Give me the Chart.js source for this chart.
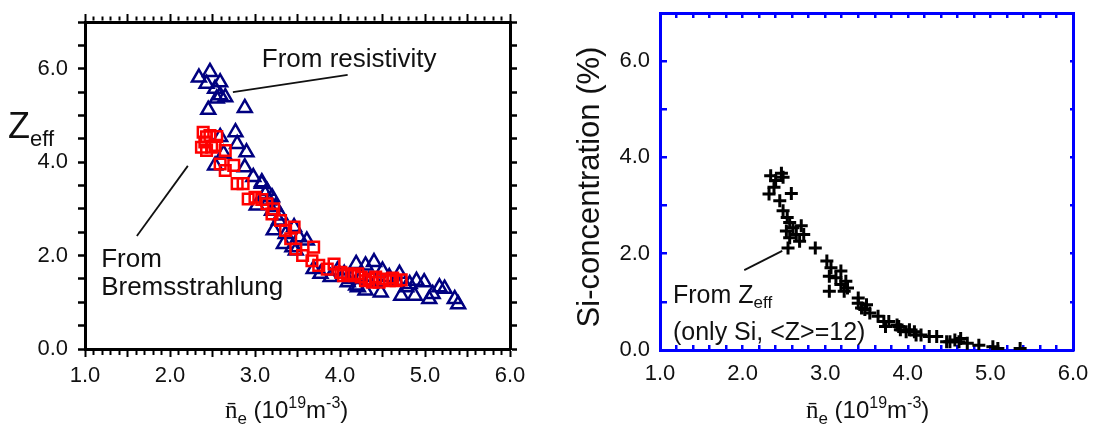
<!DOCTYPE html>
<html>
<head>
<meta charset="utf-8">
<script src="https://cdn.jsdelivr.net/npm/chart.js@4.4.0/dist/chart.umd.min.js"></script>
<style>
  html, body { margin: 0; padding: 0; background: #fff; }
  #wrap { position: relative; width: 1093px; height: 427px; overflow: hidden; }
  canvas { position: absolute; top: 0; }
  #zeffChart { left: 0; }
  #siChart { left: 546px; }
</style>
</head>
<body>
<div id="wrap">
  <canvas id="zeffChart" width="546" height="427"></canvas>
  <canvas id="siChart" width="547" height="427"></canvas>
</div>
<script>
// tick labels
const xTicks = [1, 2, 3, 4, 5, 6];
const xTickLabels = ["1.0", "2.0", "3.0", "4.0", "5.0", "6.0"];
const yTicks = [0, 2, 4, 6];
const yTickLabels = ["0.0", "2.0", "4.0", "6.0"];

// Zeff from resistivity (triangles)
const resistX = [2.34, 2.47, 2.43, 2.59, 2.53, 2.59, 2.65, 2.55, 2.45, 2.88, 2.77, 2.79, 2.90, 2.59, 2.63,
  2.88, 2.53, 2.98, 3.08, 3.14, 3.20, 3.02, 3.24, 3.30, 3.22, 3.46, 3.34, 3.61, 3.48, 3.69, 3.89, 4.19,
  4.30, 4.40, 4.50, 4.19, 4.30, 4.48, 4.70, 4.72, 4.82, 4.88, 4.90, 4.99, 5.05, 5.09, 5.17, 5.23, 5.35,
  5.39, 4.05, 3.97, 3.12, 3.16, 3.20, 3.28, 3.36, 3.52, 3.44, 4.13, 4.25, 4.34, 4.42, 4.58, 4.66, 4.78,
  4.21, 4.09, 3.77, 3.08];
const resistY = [5.81, 5.93, 5.68, 5.71, 5.57, 5.43, 5.39, 5.36, 5.12, 5.16, 4.64, 4.39, 4.21, 4.54, 4.18,
  3.89, 3.93, 3.68, 3.54, 3.39, 3.25, 3.07, 3.04, 2.86, 2.54, 2.61, 2.25, 2.32, 2.11, 1.71, 1.54, 1.82,
  1.79, 1.86, 1.68, 1.36, 1.25, 1.21, 1.61, 1.14, 1.39, 1.14, 1.46, 1.43, 1.07, 1.18, 1.32, 1.29, 1.07,
  0.96, 1.61, 1.68, 3.32, 3.18, 2.96, 2.75, 2.46, 2.39, 2.18, 1.50, 1.54, 1.46, 1.43, 1.54, 1.46, 1.32,
  1.32, 1.43, 1.61, 3.57];

// Zeff from Bremsstrahlung (squares)
const bremsX = [2.39, 2.43, 2.55, 2.37, 2.43, 2.53, 2.65, 2.59, 2.65, 2.75, 2.79, 2.86, 2.92, 3.00, 3.08,
  3.22, 3.20, 3.30, 3.36, 3.46, 3.42, 3.48, 3.56, 3.69, 3.67, 3.75, 3.85, 3.93, 4.01, 4.09, 4.17, 4.25,
  4.34, 4.42, 4.50, 4.58, 4.66, 4.72, 4.21, 4.30, 4.46, 4.62, 4.04, 4.38, 2.41, 2.49, 2.47, 3.14];
const bremsY = [4.64, 4.54, 4.55, 4.32, 4.25, 4.36, 4.25, 3.96, 3.82, 3.93, 3.54, 3.54, 3.21, 3.25, 3.20,
  3.00, 2.89, 2.75, 2.54, 2.61, 2.36, 2.14, 2.00, 2.18, 1.89, 1.79, 1.71, 1.82, 1.64, 1.61, 1.57, 1.54,
  1.50, 1.54, 1.50, 1.46, 1.46, 1.48, 1.61, 1.46, 1.43, 1.52, 1.57, 1.43, 4.43, 4.32, 4.57, 3.11];

// Si concentration from Zeff (crosses)
const siX = [2.34, 2.47, 2.40, 2.49, 2.32, 2.38, 2.59, 2.45, 2.49, 2.54, 2.57, 2.53, 2.61, 2.71, 2.65,
  2.57, 2.55, 2.74, 2.69, 2.88, 3.02, 3.07, 3.05, 3.13, 3.19, 3.25, 3.05, 3.23, 3.27, 3.19, 3.40, 3.44,
  3.50, 3.54, 3.64, 3.73, 3.77, 3.87, 3.91, 3.98, 4.08, 4.16, 4.26, 4.35, 4.47, 4.57, 4.64, 4.72, 4.86,
  5.03, 5.09, 5.36, 3.40, 3.48, 3.71, 3.89, 4.02, 4.10, 4.51, 4.62];
const siY = [3.62, 3.67, 3.52, 3.59, 3.24, 3.38, 3.25, 3.10, 2.89, 2.75, 2.65, 2.47, 2.54, 2.58, 2.40,
  2.33, 2.12, 2.40, 2.26, 2.12, 1.85, 1.71, 1.53, 1.50, 1.64, 1.43, 1.22, 1.22, 1.29, 1.36, 0.97, 0.87,
  0.94, 0.77, 0.70, 0.49, 0.59, 0.52, 0.42, 0.38, 0.38, 0.31, 0.28, 0.28, 0.17, 0.21, 0.24, 0.14, 0.10,
  0.07, 0.03, 0.03, 1.08, 0.84, 0.59, 0.49, 0.42, 0.31, 0.17, 0.17];

const SANS = "'Liberation Sans', Arial, sans-serif";
const SERIF = "'Liberation Serif', 'Times New Roman', serif";
const INK = "#111";

function toPoints(xs, ys) {
  return xs.map((x, i) => ({ x: x, y: ys[i] }));
}
function isWhole(v, step) {
  return Math.abs(v / step - Math.round(v / step)) < 1e-6;
}
function labelFor(vals, labels, v) {
  const i = vals.findIndex(t => Math.abs(t - v) < 1e-6);
  return i >= 0 ? labels[i] : "";
}
// fix an axis box to a given size and drop the label overhang padding
function boxSize(prop, px) {
  return s => {
    s[prop] = px;
    s.paddingTop = 0; s.paddingBottom = 0; s.paddingLeft = 0; s.paddingRight = 0;
  };
}

// draws text made of pieces: [text, font, dy]
function drawRich(ctx, x, y, parts) {
  let cx = x;
  parts.forEach(p => {
    ctx.font = p[1];
    ctx.fillText(p[0], cx, y + (p[2] || 0));
    cx += ctx.measureText(p[0]).width;
  });
}

function makeAnnot(spec) {
  return {
    id: "annot",
    afterDatasetsDraw(chart) {
      const { ctx, scales: { x, y } } = chart;
      ctx.save();
      ctx.fillStyle = INK;
      ctx.strokeStyle = INK;
      ctx.textBaseline = "alphabetic";
      ctx.textAlign = "left";
      spec.lines.forEach(l => {
        ctx.lineWidth = 1.8;
        ctx.beginPath();
        ctx.moveTo(x.getPixelForValue(l[0]), y.getPixelForValue(l[1]));
        ctx.lineTo(x.getPixelForValue(l[2]), y.getPixelForValue(l[3]));
        ctx.stroke();
      });
      spec.texts.forEach(t => drawRich(ctx, x.getPixelForValue(t.x), y.getPixelForValue(t.y), t.parts));
      // axis titles in canvas pixels
      spec.titles.forEach(t => drawRich(ctx, t.x, t.y, t.parts));
      if (spec.vtitle) {
        const v = spec.vtitle;
        ctx.translate(v.x, v.y);
        ctx.rotate(-Math.PI / 2);
        ctx.textAlign = "center";
        ctx.font = v.font;
        ctx.fillText(v.text, 0, 0);
      }
      ctx.restore();
    }
  };
}

const xTitleParts = [
  ["n\u0304", "25px " + SERIF],
  ["e", "17px " + SANS, 6],
  [" (10", "24px " + SANS],
  ["19", "16px " + SANS, -10],
  ["m", "24px " + SANS],
  ["-3", "16px " + SANS, -10],
  [")", "24px " + SANS]
];

const tickFont = { family: SANS, size: 22 };

// ---------- left: Zeff ----------
new Chart(document.getElementById("zeffChart"), {
  type: "scatter",
  data: {
    datasets: [
      {
        label: "From Bremsstrahlung",
        data: toPoints(bremsX, bremsY),
        pointStyle: "rect",
        pointRadius: 7.5,
        pointBorderWidth: 2.5,
        pointBorderColor: "#ff0000",
        pointBackgroundColor: "rgba(0,0,0,0)"
      },
      {
        label: "From resistivity",
        data: toPoints(resistX, resistY),
        pointStyle: "triangle",
        pointRadius: 8,
        pointBorderWidth: 2.5,
        pointBorderColor: "#000080",
        pointBackgroundColor: "rgba(0,0,0,0)"
      }
    ]
  },
  options: {
    responsive: false,
    animation: false,
    events: [],
    layout: { padding: 0, autoPadding: false },
    plugins: { legend: { display: false }, tooltip: { enabled: false } },
    scales: {
      x: {
        type: "linear", position: "bottom", min: 1, max: 6,
        afterFit: boxSize("height", 78),
        ticks: {
          stepSize: 0.1, autoSkip: false, maxRotation: 0, padding: 6, color: INK, font: tickFont,
          callback: v => labelFor(xTicks, xTickLabels, v)
        },
        grid: {
          drawOnChartArea: false, tickLength: 8, tickWidth: 2, tickColor: "#000",
          tickBorderDash: c => (c.tick && !isWhole(c.tick.value, 0.5)) ? [4, 100] : []
        },
        border: { color: "#000", width: 3 }
      },
      x2: {
        type: "linear", position: "top", min: 1, max: 6,
        afterFit: boxSize("height", 22),
        ticks: { display: false, stepSize: 0.1, autoSkip: false },
        grid: {
          drawOnChartArea: false, tickLength: 8, tickWidth: 2, tickColor: "#000",
          tickBorderDash: c => (c.tick && !isWhole(c.tick.value, 0.5)) ? [0, 2.5, 4, 100] : []
        },
        border: { color: "#000", width: 3 }
      },
      y: {
        type: "linear", position: "left", min: 0, max: 7,
        afterFit: boxSize("width", 85),
        ticks: {
          stepSize: 0.5, autoSkip: false, padding: 10, color: INK, font: tickFont,
          callback: v => labelFor(yTicks, yTickLabels, v)
        },
        grid: { drawOnChartArea: false, tickLength: 7, tickWidth: 2.5, tickColor: "#000" },
        border: { color: "#000", width: 3 }
      },
      y2: {
        type: "linear", position: "right", min: 0, max: 7,
        afterFit: boxSize("width", 36),
        ticks: { display: false, stepSize: 0.5, autoSkip: false },
        grid: { drawOnChartArea: false, tickLength: 7, tickWidth: 2.5, tickColor: "#000" },
        border: { color: "#000", width: 3 }
      }
    }
  },
  plugins: [makeAnnot({
    lines: [[2.74, 5.50, 4.09, 5.87], [1.61, 2.42, 2.21, 3.92]],
    texts: [
      { x: 3.08, y: 6.04, parts: [["From resistivity", "26px " + SANS]] },
      { x: 1.19, y: 1.76, parts: [["From", "26px " + SANS]] },
      { x: 1.19, y: 1.16, parts: [["Bremsstrahlung", "26px " + SANS]] }
    ],
    titles: [
      { x: 225, y: 418, parts: xTitleParts },
      { x: 8, y: 138, parts: [["Z", "36px " + SANS], ["eff", "22px " + SANS, 8]] }
    ]
  })]
});

// ---------- right: Si concentration ----------
const BLUE = "#0000ff";
new Chart(document.getElementById("siChart"), {
  type: "scatter",
  data: {
    datasets: [{
      label: "From Zeff (only Si, <Z>=12)",
      data: toPoints(siX, siY),
      pointStyle: "cross",
      pointRadius: 6.5,
      pointBorderWidth: 3,
      pointBorderColor: "#000"
    }]
  },
  options: {
    responsive: false,
    animation: false,
    events: [],
    layout: { padding: 0, autoPadding: false },
    plugins: { legend: { display: false }, tooltip: { enabled: false } },
    scales: {
      x: {
        type: "linear", position: "bottom", min: 1, max: 6,
        afterFit: boxSize("height", 77),
        ticks: {
          stepSize: 0.2, autoSkip: false, maxRotation: 0, padding: 11, color: INK, font: tickFont,
          callback: v => labelFor(xTicks, xTickLabels, v)
        },
        grid: { drawTicks: false, color: BLUE, lineWidth: 2.5 },
        border: { color: BLUE, width: 3, dash: [5, 327, 5, 1000] }
      },
      x2: {
        type: "linear", position: "top", min: 1, max: 6,
        afterFit: boxSize("height", 13),
        ticks: { display: false },
        grid: { display: false },
        border: { color: BLUE, width: 3 }
      },
      y: {
        type: "linear", position: "left", min: 0, max: 7,
        afterFit: boxSize("width", 114),
        ticks: {
          stepSize: 1, autoSkip: false, padding: 10, color: INK, font: tickFont,
          callback: v => labelFor(yTicks, yTickLabels, v)
        },
        grid: { drawTicks: false, color: BLUE, lineWidth: 2.5 },
        border: { color: BLUE, width: 3, dash: [5, 403, 5, 1000] }
      },
      y2: {
        type: "linear", position: "right", min: 0, max: 7,
        afterFit: boxSize("width", 20),
        ticks: { display: false },
        grid: { display: false },
        border: { color: BLUE, width: 3 }
      }
    }
  },
  plugins: [makeAnnot({
    lines: [[2.02, 1.66, 2.48, 2.06]],
    texts: [
      { x: 1.157, y: 0.98, parts: [["From Z", "25px " + SANS], ["eff", "17px " + SANS, 5]] },
      { x: 1.157, y: 0.21, parts: [["(only Si, <Z>=12)", "25px " + SANS]] }
    ],
    titles: [{ x: 260, y: 418, parts: xTitleParts }],
    vtitle: { x: 53, y: 187, text: "Si-concentration (%)", font: "31px " + SANS }
  })]
});
</script>
</body>
</html>
